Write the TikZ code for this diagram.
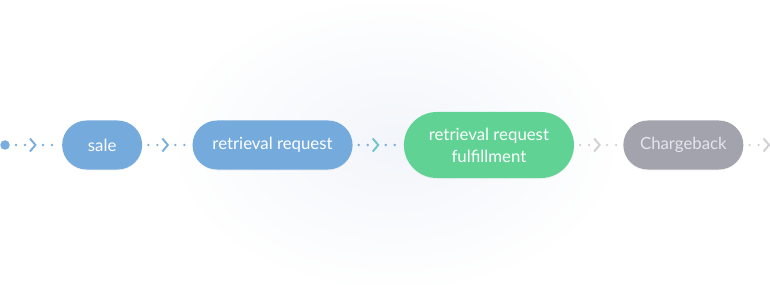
\documentclass[tikz,border=0pt]{standalone}
\usepackage{fontspec}
\setmainfont{Lato}
\usetikzlibrary{positioning,decorations.markings,shadows}

\definecolor{saleblue}{HTML}{75AADC}
\definecolor{fulfilgreen}{HTML}{60D394}
\definecolor{chargegray}{HTML}{A3A3AD}
\definecolor{chargetext}{HTML}{E4E4EA}
\definecolor{dotblue}{HTML}{79AEDC}
\definecolor{dotgray}{HTML}{D0D0D4}
\definecolor{chevteal}{HTML}{6CC3CC}
\definecolor{glow}{HTML}{F2F5FA}

\begin{document}
\begin{tikzpicture}[
    x=1pt, y=1pt,
    node distance=50pt,
    stage/.style={rounded corners=24.5pt, minimum height=49pt, inner sep=0pt, text=white, align=center,
        font=\fontsize{16.8}{22}\selectfont,
        drop shadow={shadow xshift=0pt, shadow yshift=-1pt, opacity=0.08}},
    startdot/.style={circle, fill=dotblue, minimum size=9.5pt, inner sep=0pt},
    flow/.style 2 args={decoration={markings,
        mark=at position 6pt with {\fill[#1] (0,0) circle (1.3pt);},
        mark=at position 15pt with {\fill[#1] (0,0) circle (1.3pt);},
        mark=at position 24pt with {\draw[#2, line width=1.9pt, miter limit=4] (-4pt,6.5pt) -- (1.5pt,0) -- (-4pt,-6.5pt);},
        mark=at position 33pt with {\fill[#1] (0,0) circle (1.3pt);},
        mark=at position 42pt with {\fill[#1] (0,0) circle (1.3pt);}},
        postaction={decorate}}
]
    % Frame and soft glow
    \useasboundingbox (0,0) rectangle (770,284);
    \clip (0,0) rectangle (770,284);
    \fill[white] (0,0) rectangle (770,284);
    \shade[inner color=glow, outer color=white] (395,140) ellipse (230 and 150);

    % Stages
    \node[startdot] (origin) at (5,139) {};
    \node[stage, fill=saleblue, minimum width=80pt, right=52pt of origin] (sale) {sale};
    \node[stage, fill=saleblue, minimum width=160pt, right=of sale] (retrieval) {retrieval request};
    \node[stage, fill=fulfilgreen, minimum width=170pt, minimum height=66pt, rounded corners=33pt,
        right=51pt of retrieval] (fulfil) {retrieval request\\fulfillment};
    \node[stage, fill=chargegray, text=chargetext, minimum width=120pt, right=49pt of fulfil] (chargeback) {Chargeback};
    \coordinate[right=of chargeback] (exit);

    % Connectors
    \path[flow={dotblue}{dotblue}] (origin) -- (sale);
    \path[flow={dotblue}{dotblue}] (sale) -- (retrieval);
    \path[flow={dotblue}{chevteal}] (retrieval) -- (fulfil);
    \path[flow={dotgray}{dotgray}] (fulfil) -- (chargeback);
    \path[flow={dotgray}{dotgray}] (chargeback) -- (exit);
\end{tikzpicture}
\end{document}
